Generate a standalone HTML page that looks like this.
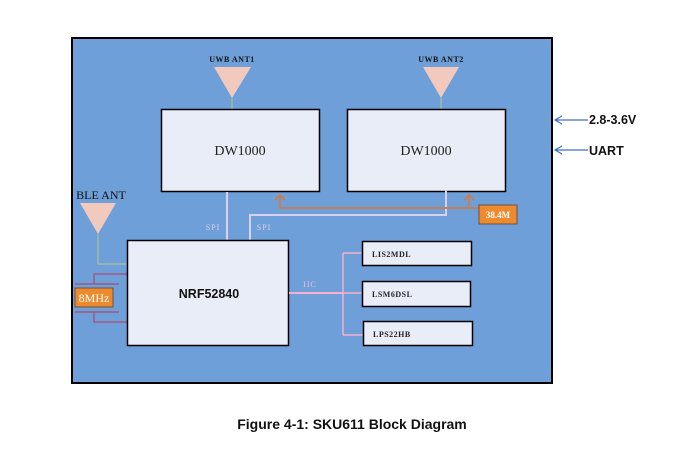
<!DOCTYPE html>
<html><head><meta charset="utf-8"><style>
html,body{margin:0;padding:0;background:#fff;}
svg{display:block;}
.s{font-family:"Liberation Serif",serif;}
.a{font-family:"Liberation Sans",sans-serif;font-weight:bold;}
</style></head><body>
<svg width="679" height="453" viewBox="0 0 679 453">
<rect x="72" y="38" width="480" height="345" fill="#6f9fd9" stroke="#000" stroke-width="2"/>
<text x="232" y="62" class="s" font-size="8" font-weight="bold" text-anchor="middle" fill="#111" letter-spacing="0.5">UWB ANT1</text>
<polygon points="214,67 251,67 232,98" fill="#f2c9bd"/>
<line x1="232" y1="98" x2="232" y2="109" stroke="#b8c88a" stroke-width="1"/>
<text x="441" y="62" class="s" font-size="8" font-weight="bold" text-anchor="middle" fill="#111" letter-spacing="0.5">UWB ANT2</text>
<polygon points="423,67 459,67 441,98" fill="#f2c9bd"/>
<line x1="441" y1="98" x2="441" y2="109" stroke="#b8c88a" stroke-width="1"/>
<rect x="161.5" y="109.5" width="158" height="82" fill="#e9edf7" stroke="#000" stroke-width="1.5"/>
<text x="240" y="155" class="s" font-size="14" text-anchor="middle" fill="#222">DW1000</text>
<rect x="347.5" y="109.5" width="158" height="82" fill="#e9edf7" stroke="#000" stroke-width="1.5"/>
<text x="426" y="155" class="s" font-size="14" text-anchor="middle" fill="#222">DW1000</text>
<line x1="227" y1="192" x2="227" y2="240" stroke="#d8d0ec" stroke-width="2"/>
<polyline points="250,240 250,215 446,215 446,190" fill="none" stroke="#d8d0ec" stroke-width="2"/>
<text x="213" y="230" class="s" font-size="8" text-anchor="middle" fill="#d8d0ec" letter-spacing="1">SPI</text>
<text x="264" y="230" class="s" font-size="8" text-anchor="middle" fill="#d8d0ec" letter-spacing="1">SPI</text>
<polyline points="280,195 280,208 479,208" fill="none" stroke="#c0805a" stroke-width="2"/>
<polyline points="275,200 280,195 285,200" fill="none" stroke="#c0805a" stroke-width="2"/>
<line x1="469" y1="195" x2="469" y2="208" stroke="#c0805a" stroke-width="2"/>
<polyline points="464,200 469,195 474,200" fill="none" stroke="#c0805a" stroke-width="2"/>
<rect x="479" y="205" width="38" height="19" fill="#ee8a2e" stroke="#6b5040" stroke-width="1"/>
<text x="498" y="218" class="s" font-size="9" font-weight="bold" text-anchor="middle" fill="#fff">38.4M</text>
<text x="101" y="199" class="s" font-size="12" text-anchor="middle" fill="#111">BLE ANT</text>
<polygon points="80,203 116,203 98,234" fill="#f2c9bd"/>
<polyline points="98,234 98,264 127,264" fill="none" stroke="#b8c88a" stroke-width="1"/>
<g stroke="#a84a6a" stroke-width="1.2" fill="none">
<polyline points="127,274 94,274 94,284"/>
<line x1="75" y1="284" x2="119" y2="284"/>
<line x1="75" y1="312" x2="119" y2="312"/>
<polyline points="94,312 94,322 127,322"/>
</g>
<rect x="75" y="288" width="38" height="19" fill="#ee8a2e" stroke="#6b5040" stroke-width="1"/>
<text x="94" y="302" class="s" font-size="12" text-anchor="middle" fill="#fff">8MHz</text>
<rect x="127.5" y="240.5" width="161" height="105" fill="#e9edf7" stroke="#000" stroke-width="1.5"/>
<text x="209" y="298" class="a" font-size="12.5" text-anchor="middle" fill="#111">NRF52840</text>
<line x1="289" y1="293" x2="343" y2="293" stroke="#f4b0cc" stroke-width="2"/>
<text x="310" y="287" class="s" font-size="8" text-anchor="middle" fill="#f0c0d6" letter-spacing="1">IIC</text>
<g stroke="#f4b0cc" stroke-width="1.5" fill="none">
<line x1="343" y1="253" x2="343" y2="335"/>
<line x1="343" y1="253" x2="362" y2="253"/>
<line x1="343" y1="293" x2="362" y2="293"/>
<line x1="343" y1="335" x2="363" y2="335"/>
</g>
<rect x="362.5" y="241.5" width="109" height="24" fill="#e9edf7" stroke="#000" stroke-width="1.5"/>
<text x="372" y="257" class="s" font-size="8" font-weight="bold" fill="#222" letter-spacing="0.5">LIS2MDL</text>
<rect x="362.5" y="281.5" width="108" height="25" fill="#e9edf7" stroke="#000" stroke-width="1.5"/>
<text x="372" y="297" class="s" font-size="8" font-weight="bold" fill="#222" letter-spacing="0.5">LSM6DSL</text>
<rect x="363.5" y="321.5" width="109" height="24" fill="#e9edf7" stroke="#000" stroke-width="1.5"/>
<text x="373" y="337" class="s" font-size="8" font-weight="bold" fill="#222" letter-spacing="0.5">LPS22HB</text>
<g stroke="#3f6fc0" stroke-width="1.2" fill="none">
<line x1="555" y1="120" x2="588" y2="120"/>
<polyline points="562,116 555,120 562,124"/>
<line x1="555" y1="150" x2="588" y2="150"/>
<polyline points="562,146 555,150 562,154"/>
</g>
<text x="589" y="124" class="a" font-size="12.5" fill="#111">2.8-3.6V</text>
<text x="589" y="155" class="a" font-size="12.5" fill="#111">UART</text>
<text x="352" y="429" class="a" font-size="14" text-anchor="middle" fill="#111">Figure 4-1: SKU611 Block Diagram</text>
</svg>
</body></html>
